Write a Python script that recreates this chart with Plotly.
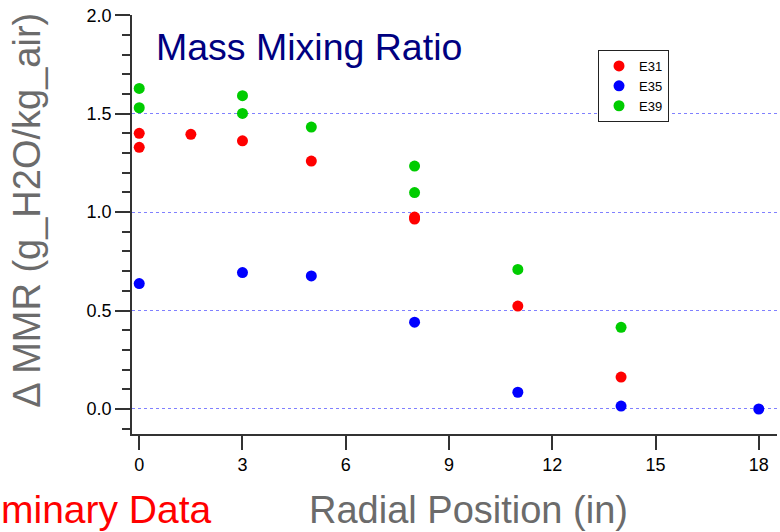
import plotly.graph_objects as go

# Radial positions (in) and change in mass mixing ratio (g H2O / kg air)
e31_x = [0, 0, 1.5, 3, 5, 8, 8, 11, 14]
e31_y = [1.400, 1.329, 1.395, 1.362, 1.259, 0.975, 0.965, 0.523, 0.162]

e35_x = [0, 3, 5, 8, 11, 14, 18]
e35_y = [0.637, 0.693, 0.676, 0.441, 0.085, 0.015, 0.0]

e39_x = [0, 0, 3, 3, 5, 8, 8, 11, 14]
e39_y = [1.628, 1.530, 1.591, 1.501, 1.432, 1.234, 1.099, 0.709, 0.415]

series = [
    ("E31", e31_x, e31_y, "#ff0000"),
    ("E35", e35_x, e35_y, "#0000ff"),
    ("E39", e39_x, e39_y, "#00cc00"),
]

x_ticks = [0, 3, 6, 9, 12, 15, 18]
y_ticks = [0.0, 0.5, 1.0, 1.5, 2.0]
y_tick_text = ["0.0", "0.5", "1.0", "1.5", "2.0"]

FONT = "Liberation Sans, Arial, sans-serif"

fig = go.Figure()
for name, xs, ys, color in series:
    fig.add_trace(go.Scatter(
        x=xs, y=ys, mode="markers", name=name,
        marker=dict(size=11, color=color, line=dict(width=0)),
    ))

fig.update_layout(
    width=780, height=532,
    margin=dict(l=132, r=3, t=15, b=98),
    paper_bgcolor="white", plot_bgcolor="white",
    font=dict(family=FONT, color="black"),
    showlegend=True,
    legend=dict(
        x=0.7225, y=0.9165, xanchor="left", yanchor="top",
        bgcolor="white", bordercolor="#222222", borderwidth=1,
        font=dict(size=13, color="black"),
        itemwidth=30, tracegroupgap=0,
    ),
    annotations=[
        dict(text="Mass Mixing Ratio", x=0.034, y=0.924, xref="paper", yref="paper",
             xanchor="left", yanchor="middle", showarrow=False,
             font=dict(size=37.5, color="#000080", family=FONT)),
        dict(text="Δ MMR (g_H2O/kg_air)", x=-0.163, y=0.535, xref="paper", yref="paper",
             xanchor="center", yanchor="middle", textangle=-90, showarrow=False,
             font=dict(size=38, color="#6b6b6b", family=FONT)),
        dict(text="Radial Position (in)", x=(468 - 132) / 645, y=-0.181,
             xref="paper", yref="paper", xanchor="center", yanchor="middle",
             showarrow=False, font=dict(size=38, color="#6b6b6b", family=FONT)),
        dict(text="Preliminary Data", x=(214 - 132) / 645, y=-0.181,
             xref="paper", yref="paper", xanchor="right", yanchor="middle",
             showarrow=False, font=dict(size=39, color="#ff0000", family=FONT)),
    ],
)

fig.update_xaxes(
    range=[-0.21, 18.53], tickvals=x_ticks, ticktext=[str(v) for v in x_ticks],
    showgrid=False, zeroline=False,
    showline=True, linecolor="#333333", linewidth=1.5,
    ticks="outside", ticklen=14, tickwidth=1.5, tickcolor="#333333",
    tickfont=dict(size=18, color="black", family=FONT),
)

fig.update_yaxes(
    range=[-0.127, 2.001], tickvals=y_ticks, ticktext=y_tick_text,
    showgrid=True, gridcolor="#8080ff", griddash="dot", gridwidth=1,
    zeroline=False,
    showline=True, linecolor="#333333", linewidth=1.5,
    ticks="outside", ticklen=15, tickwidth=1.5, tickcolor="#333333",
    tickfont=dict(size=18, color="black", family=FONT),
    minor=dict(dtick=0.1, tick0=0, ticks="outside", ticklen=8,
               tickwidth=1.5, tickcolor="#333333", showgrid=False),
)

fig.write_html("out.html")
